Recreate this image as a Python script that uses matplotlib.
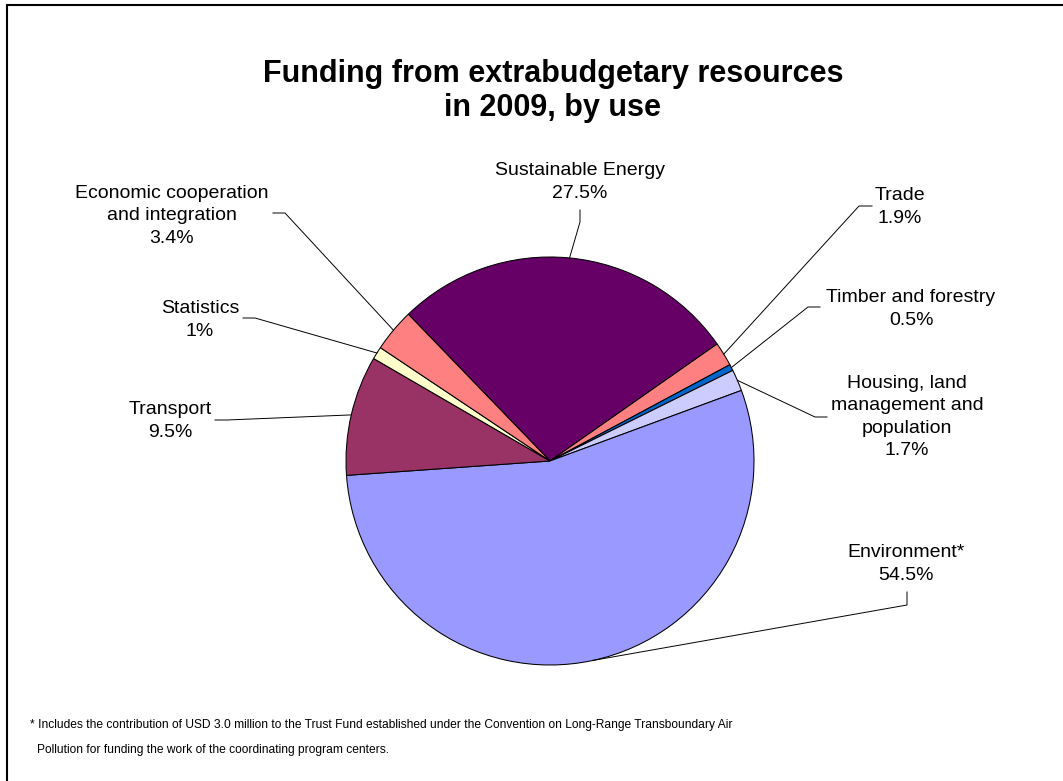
import matplotlib.pyplot as plt
from matplotlib.patches import Rectangle
import numpy as np

W, H = 1063, 781

# data
categories = ["Sustainable Energy", "Trade", "Timber and forestry",
              "Housing, land\nmanagement and\npopulation", "Environment*",
              "Transport", "Statistics", "Economic cooperation\nand integration"]
shares = [27.5, 1.9, 0.5, 1.7, 54.5, 9.5, 1.0, 3.4]
pct_labels = ["27.5%", "1.9%", "0.5%", "1.7%", "54.5%", "9.5%", "1%", "3.4%"]
colors = ["#660066", "#FF8080", "#0066CC", "#CCCCFF", "#9999FF",
          "#993366", "#FFFFCC", "#FF8080"]

# label layout in pixels: text centre, outer end of leader, knee
text_pos = [(580, 182), (900, 207), (911, 309), (907, 417), (906, 564),
            (170, 421), (200, 320), (172, 216)]
leader_out = [(580, 210), (872, 206), (820, 307), (827, 417), (907, 592),
              (215, 420), (243, 318), (273, 213)]
leader_knee = [(580, 222), (859, 206), (808, 307), (815, 417), (907, 605),
               (227, 420), (255, 318), (285, 213)]

plt.rcParams['font.family'] = ['Liberation Sans', 'DejaVu Sans']


def px(p):
    return p[0], H - p[1]


fig = plt.figure(figsize=(W / 100, H / 100), dpi=100)
ax = fig.add_axes([0, 0, 1, 1])

cx, cy = px((550, 461))
R = 204
wedges, _ = ax.pie(shares, colors=colors, startangle=134, counterclock=False,
                   center=(cx, cy), radius=R,
                   wedgeprops=dict(edgecolor="black", linewidth=0.75))
ax.set_xlim(0, W)
ax.set_ylim(0, H)
ax.set_aspect("equal")
ax.axis("off")

for i, w in enumerate(wedges):
    mid = np.deg2rad((w.theta1 + w.theta2) / 2)
    ex, ey = cx + R * np.cos(mid), cy + R * np.sin(mid)
    ox, oy = px(leader_out[i])
    kx, ky = px(leader_knee[i])
    ax.plot([ox, kx, ex], [oy, ky, ey], color="black", lw=0.7)
    tx, ty = px(text_pos[i])
    ax.text(tx, ty, categories[i] + "\n" + pct_labels[i], ha="center", va="center",
            fontsize=14, linespacing=1.42)

ax.text(553, H - 91, "Funding from extrabudgetary resources\nin 2009, by use",
        ha="center", va="center", fontsize=22, fontweight="bold", linespacing=1.16)

ax.text(30, H - 725, "* Includes the contribution of USD 3.0 million to the Trust Fund "
        "established under the Convention on Long-Range Transboundary Air",
        ha="left", va="center", fontsize=8.65)
ax.text(37, H - 750, "Pollution for funding the work of the coordinating program centers.",
        ha="left", va="center", fontsize=8.65)

ax.add_patch(Rectangle((7, -10), W + 20, H - 5 + 10, fill=False,
                       edgecolor="black", lw=1.5, clip_on=False))

fig.savefig("out.png", dpi=100)
